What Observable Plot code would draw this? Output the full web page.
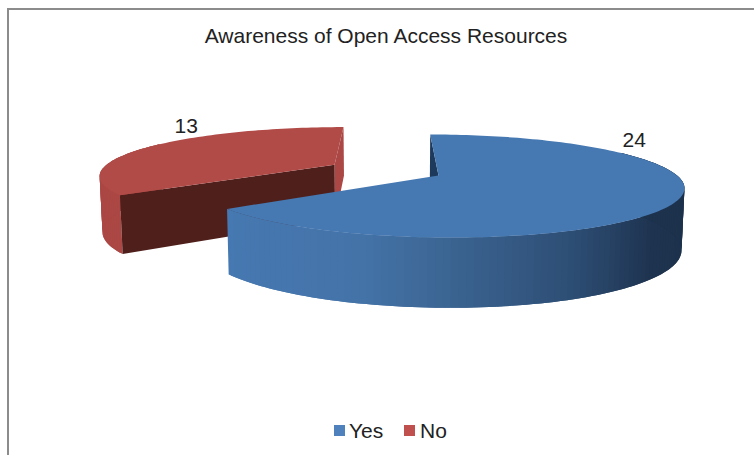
<!DOCTYPE html>
<html>
<head>
<meta charset="utf-8">
<script src="https://cdn.jsdelivr.net/npm/d3@7"></script>
<script src="https://cdn.jsdelivr.net/npm/@observablehq/plot@0.6"></script>
<style>
  html, body { margin: 0; padding: 0; background: #fff; width: 754px; height: 455px; overflow: hidden; }
  body { position: relative; font-family: "Liberation Sans", Arial, sans-serif; color: #222; }
  #frame { position: absolute; left: 7px; top: 8px; right: -4px; bottom: -4px; border: 2px solid #8c8c8c; }
  #title { position: absolute; left: 0; width: 772px; top: 24px; text-align: center; font-size: 21px; line-height: 24px; }
  #legend { position: absolute; top: 419px; left: 334px; font-size: 21px; line-height: 24px; white-space: nowrap; }
  #legend i { position: absolute; top: 6px; width: 11px; height: 11px; }
  #legend span { position: absolute; top: 0; }
  #chart { position: absolute; left: 0; top: 0; }
  svg { display: block; }
</style>
</head>
<body>
<div id="chart"></div>
<div id="frame"></div>
<div id="title"></div>
<div id="legend"></div>
<script>
const titleText = "Awareness of Open Access Resources";
const categories = ["Yes", "No"];
const values = [24, 13];
const sliceColors = ["#4678b1", "#b14b48"];
const legendColors = ["#4f81bd", "#c0504d"];

// view of the tilted, exploded pie
const W = 754, H = 455;
const view = {vx: 389, apexX: 49, apexY: 175, rx: 238.5, ky: 49.4, p: 0.204, explode: 0.5};
const total = d3.sum(values);
const rad = Math.PI / 180;
const yesSweep = values[0] / total * 360;

function project(X, Z, down) {
  const s = 1 / (1 + view.p * Z);
  const x = view.vx + (view.apexX + view.rx * X) * s;
  const y = view.apexY - view.ky * Z * s;
  if (!down) return [x, y];
  return [view.vx + (x - view.vx) * 0.99, y + (20 + 40 * s) * down];
}
function slicePoint(r, deg, off, down) {
  return project(off[0] + r * Math.sin(deg * rad), off[1] + r * Math.cos(deg * rad), down);
}

const yesOff = [0, 0];
const mid = (yesSweep + 360) / 2;
const noOff = [view.explode * Math.sin(mid * rad), view.explode * Math.cos(mid * rad)];
const noDepth = 0.93, yesDepth = 1;

const polys = [];
function poly(pts, c) {
  const id = polys.length ? polys[polys.length - 1].id + 1 : 0;
  for (const [x, y] of pts) polys.push({id, x, y, c});
}
const range = (a, b, st = 1.5) => {
  const out = d3.range(a, b, st); out.push(b); return out;
};
// wall bands; each band runs on under the next so no seams show
function wall(a, b, off, depth, color, order) {
  const steps = range(a, b);
  const seq = order < 0 ? steps.slice().reverse() : steps;
  for (let i = 0; i < seq.length - 1; i++) {
    const p = seq[i], q = seq[i + 1], r = seq[Math.min(i + 2, seq.length - 1)];
    const arc = [p, q, r];
    poly([...arc.map(t => slicePoint(1, t, off, 0)),
          ...arc.slice().reverse().map(t => slicePoint(1, t, off, depth))], color((p + q) / 2));
  }
}

// No slice
const noA = yesSweep, noB = 360;
const noWall = "#ab4744", noInner = "#4f1f1b";
{
  const arc = range(noA, noB);
  wall(noA, 300, noOff, noDepth, () => noWall, 1);
  poly([slicePoint(1, noB, noOff, 0), slicePoint(0, 0, noOff, 0),
        slicePoint(0, 0, noOff, noDepth), slicePoint(1, noB, noOff, noDepth)], noWall);
  poly([slicePoint(0, 0, noOff, 0), slicePoint(1, noA, noOff, 0),
        slicePoint(1, noA, noOff, noDepth), slicePoint(0, 0, noOff, noDepth)], noInner);
  poly([slicePoint(0, 0, noOff, 0), ...arc.map(a => slicePoint(1, a, noOff, 0))], sliceColors[1]);
}

// Yes slice
{
  const shade = d3.scaleLinear()
    .domain([-0.8, -0.3, 0, 0.4, 0.75, 1])
    .range(["#4678b1", "#4473a8", "#3b6491", "#2e4f76", "#1e334f", "#1d324c"])
    .interpolate(d3.interpolateRgb).clamp(true);
  poly([slicePoint(1, 0, yesOff, 0), slicePoint(0, 0, yesOff, 0),
        slicePoint(0, 0, yesOff, yesDepth), slicePoint(1, 0, yesOff, yesDepth)], "#1d3a5c");
  wall(60, yesSweep, yesOff, yesDepth, t => shade(Math.sin(t * rad)), -1);
  const arc = range(0, yesSweep);
  poly([slicePoint(0, 0, yesOff, 0), ...arc.map(a => slicePoint(1, a, yesOff, 0))], sliceColors[0]);
}

const chart = Plot.plot({
  width: W, height: H,
  margin: 0,
  x: {domain: [0, W], range: [0, W], axis: null},
  y: {domain: [0, H], range: [0, H], axis: null},
  color: {type: "identity"},
  marks: [
    Plot.line(polys, {x: "x", y: "y", z: "id", fill: "c", stroke: "none", curve: "linear-closed"}),
    Plot.text([values[1]], {text: d => String(d), frameAnchor: "top-left", dx: 174, dy: 118, fontSize: 21, fill: "#222", fontFamily: "Liberation Sans"}),
    Plot.text([values[0]], {text: d => String(d), frameAnchor: "top-left", dx: 622, dy: 132, fontSize: 21, fill: "#222", fontFamily: "Liberation Sans"})
  ]
});
document.getElementById("chart").append(chart);
document.getElementById("title").textContent = titleText;

const legend = document.getElementById("legend");
const offsets = [[0, 15], [70, 86]];
categories.forEach((c, i) => {
  const sw = document.createElement("i");
  sw.style.left = offsets[i][0] + "px";
  sw.style.background = legendColors[i];
  const t = document.createElement("span");
  t.style.left = offsets[i][1] + "px";
  t.textContent = c;
  legend.append(sw, t);
});
</script>
</body>
</html>
